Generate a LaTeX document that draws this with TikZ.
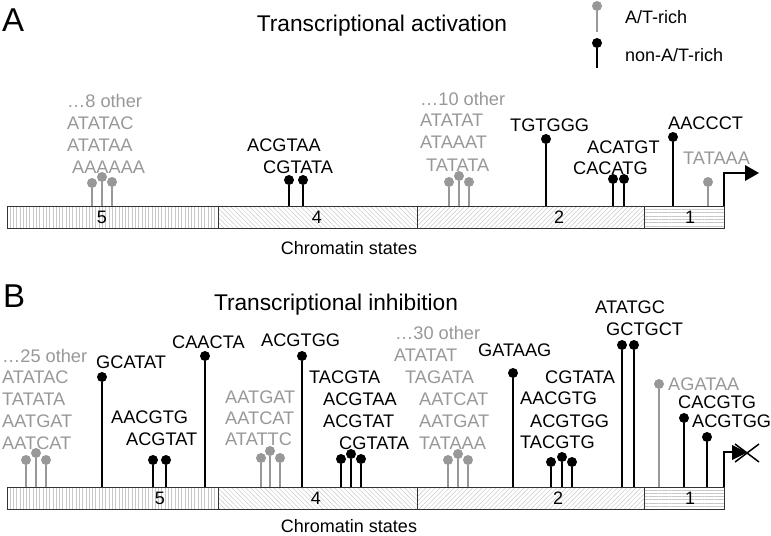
\documentclass[tikz,border=0pt]{standalone}
\usepackage{fontspec}
\setmainfont{Liberation Sans}
\usetikzlibrary{patterns.meta}
\definecolor{atgray}{RGB}{152,152,152}
\definecolor{hatch}{RGB}{200,200,200}
\tikzset{
  seq/.style={font=\fontsize{18.2bp}{22bp}\selectfont, anchor=west, inner sep=0pt},
  seqb/.style={seq, text=black},
  seqg/.style={seq, text=atgray},
  dotb/.style={circle, fill=black, inner sep=0pt, minimum size=10bp},
  dotg/.style={circle, fill=atgray, inner sep=0pt, minimum size=10bp},
  stemb/.style={line width=1.5bp, draw=black},
  stemg/.style={line width=1.5bp, draw=atgray},
  seg/.style={draw=black!80, line width=1.3bp, anchor=north west, inner sep=0pt, minimum height=22bp, pattern color=hatch},
  pat5/.style={pattern={Lines[angle=90, distance=3.3bp, line width=0.5bp]}},
  pat4/.style={pattern={Lines[angle=-45, distance=3.3bp, line width=0.5bp]}},
  pat2/.style={pattern={Lines[angle=45, distance=3.3bp, line width=0.5bp]}},
  pat1/.style={pattern={Lines[angle=0, distance=3.3bp, line width=0.5bp]}},
  seglabel/.style={font=\fontsize{18bp}{22bp}\selectfont, inner sep=0pt},
  title/.style={font=\fontsize{22.7bp}{27bp}\selectfont, anchor=base, inner sep=0pt},
  panel/.style={font=\fontsize{33bp}{36bp}\selectfont, anchor=base west, inner sep=0pt},
  caption/.style={font=\fontsize{18bp}{22bp}\selectfont, anchor=base, inner sep=0pt},
  legtext/.style={font=\fontsize{18bp}{22bp}\selectfont, anchor=west, inner sep=0pt},
}
% #1 name, #2 x, #3 bar-top y, #4 circle y, #5 b/g
\newcommand\lolpop[5]{%
  \coordinate (#1base) at (#2,#3);
  \node[dot#5] (#1) at (#2,#4) {};
  \draw[stem#5] (#1base) -- (#1);
}
\begin{document}
\begin{tikzpicture}[x=1bp,y=-1bp]
\useasboundingbox (0,0) rectangle (771,536);

% ---------------- Legend ----------------
\lolpop{legg}{597}{32}{6}{g}
\lolpop{legb}{597}{68}{43}{b}
\node[legtext] (legAT) at (625,17) {A/T-rich};
\node[legtext] (legnon) at (625,55) {non-A/T-rich};

% ---------------- Panel A ----------------
\node[panel] (labA) at (2,32) {A};
\node[title] (titA) at (382,32) {Transcriptional activation};

\node[seg, pat5, minimum width=211bp] (a5) at (7,206) {};
\node[seg, pat4, minimum width=199bp] (a4) at (218,206) {};
\node[seg, pat2, minimum width=227bp] (a2) at (417,206) {};
\node[seg, pat1, minimum width=80bp] (a1) at (644,206) {};
\node[seglabel] (a5l) at (102,217) {5};
\node[seglabel] (a4l) at (317,217) {4};
\node[seglabel] (a2l) at (559,217) {2};
\node[seglabel] (a1l) at (690,217) {1};
\node[caption] (capA) at (349,255) {Chromatin states};

% group in state 5 (A/T-rich)
\node[seqg] (ta1) at (67,101) {…8 other};
\node[seqg] (ta2) at (67,123) {ATATAC};
\node[seqg] (ta3) at (67,145) {ATATAA};
\node[seqg] (ta4) at (72,167) {AAAAAA};
\lolpop{pa1}{92}{206}{183}{g}
\lolpop{pa2}{102}{206}{177}{g}
\lolpop{pa3}{112}{206}{182}{g}

% state 4
\node[seqb] (ta5) at (247,145) {ACGTAA};
\node[seqb] (ta6) at (263,167) {CGTATA};
\lolpop{pa4}{289}{206}{180}{b}
\lolpop{pa5}{303}{206}{180}{b}

% state 2 A/T-rich
\node[seqg] (ta7) at (420,99) {…10 other};
\node[seqg] (ta8) at (420,120) {ATATAT};
\node[seqg] (ta9) at (420,142) {ATAAAT};
\node[seqg] (ta10) at (426,165) {TATATA};
\lolpop{pa6}{449}{206}{182}{g}
\lolpop{pa7}{459}{206}{176}{g}
\lolpop{pa8}{469}{206}{182}{g}

\node[seqb] (ta11) at (510,125) {TGTGGG};
\lolpop{pa9}{546}{206}{139}{b}

\node[seqb] (ta12) at (587,147) {ACATGT};
\node[seqb] (ta13) at (573,168) {CACATG};
\lolpop{pa10}{613}{206}{179}{b}
\lolpop{pa11}{624}{206}{179}{b}

\node[seqb] (ta14) at (668,123) {AACCCT};
\lolpop{pa12}{673}{206}{137}{b}
\node[seqg] (ta15) at (683,158) {TATAAA};
\lolpop{pa13}{708}{206}{182}{g}

% TSS arrow (active)
\coordinate (tssA) at (724,206);
\coordinate (tssAtop) at (724,173);
\coordinate (tssAend) at (746,173);
\draw[line width=1.5bp] (tssA) -- (tssAtop) -- (tssAend);
\fill (745,165) -- (759,173) -- (745,181) -- cycle;

% ---------------- Panel B ----------------
\node[panel] (labB) at (3,308) {B};
\node[title] (titB) at (336,310) {Transcriptional inhibition};

\node[seg, pat5, minimum width=211bp] (b5) at (7,487) {};
\node[seg, pat4, minimum width=199bp] (b4) at (218,487) {};
\node[seg, pat2, minimum width=227bp] (b2) at (417,487) {};
\node[seg, pat1, minimum width=80bp] (b1) at (644,487) {};
\node[seglabel] (b5l) at (160,498) {5};
\node[seglabel] (b4l) at (316,498) {4};
\node[seglabel] (b2l) at (558,498) {2};
\node[seglabel] (b1l) at (690,498) {1};
\node[caption] (capB) at (349,532) {Chromatin states};

% state 5
\node[seqg] (tb1) at (2,356) {…25 other};
\node[seqg] (tb2) at (2,377) {ATATAC};
\node[seqg] (tb3) at (2,399) {TATATA};
\node[seqg] (tb4) at (2,421) {AATGAT};
\node[seqg] (tb5) at (2,443) {AATCAT};
\lolpop{pb1}{26}{487}{460}{g}
\lolpop{pb2}{36}{487}{453}{g}
\lolpop{pb3}{46}{487}{460}{g}

\node[seqb] (tb6) at (96,362) {GCATAT};
\lolpop{pb4}{102}{487}{377}{b}
\node[seqb] (tb7) at (172,342) {CAACTA};
\lolpop{pb5}{205}{487}{356}{b}
\node[seqb] (tb8) at (111,417) {AACGTG};
\node[seqb] (tb9) at (126,439) {ACGTAT};
\lolpop{pb6}{153}{487}{460}{b}
\lolpop{pb7}{166}{487}{460}{b}

% state 4
\node[seqg] (tb10) at (225,397) {AATGAT};
\node[seqg] (tb11) at (225,418) {AATCAT};
\node[seqg] (tb12) at (225,439) {ATATTC};
\lolpop{pb8}{261}{487}{458}{g}
\lolpop{pb9}{270}{487}{451}{g}
\lolpop{pb10}{280}{487}{458}{g}

\node[seqb] (tb13) at (261,340) {ACGTGG};
\lolpop{pb11}{302}{487}{356}{b}

\node[seqb] (tb14) at (309,377) {TACGTA};
\node[seqb] (tb15) at (323,399) {ACGTAA};
\node[seqb] (tb16) at (323,421) {ACGTAT};
\node[seqb] (tb17) at (339,443) {CGTATA};
\lolpop{pb12}{341}{487}{459}{b}
\lolpop{pb13}{351}{487}{454}{b}
\lolpop{pb14}{361}{487}{459}{b}

% state 2
\node[seqg] (tb18) at (395,333) {…30 other};
\node[seqg] (tb19) at (394,355) {ATATAT};
\node[seqg] (tb20) at (405,377) {TAGATA};
\node[seqg] (tb21) at (419,399) {AATCAT};
\node[seqg] (tb22) at (419,421) {AATGAT};
\node[seqg] (tb23) at (419,443) {TATAAA};
\lolpop{pb15}{448}{487}{460}{g}
\lolpop{pb16}{458}{487}{454}{g}
\lolpop{pb17}{468}{487}{460}{g}

\node[seqb] (tb24) at (478,350) {GATAAG};
\lolpop{pb18}{513}{487}{373}{b}

\node[seqb] (tb25) at (545,377) {CGTATA};
\node[seqb] (tb26) at (520,398) {AACGTG};
\node[seqb] (tb27) at (530,421) {ACGTGG};
\node[seqb] (tb28) at (520,442) {TACGTG};
\lolpop{pb19}{551}{487}{462}{b}
\lolpop{pb20}{562}{487}{457}{b}
\lolpop{pb21}{572}{487}{462}{b}

\node[seqb] (tb29) at (595,307) {ATATGC};
\node[seqb] (tb30) at (606,329) {GCTGCT};
\lolpop{pb22}{622}{487}{345}{b}
\lolpop{pb23}{634}{487}{345}{b}

% state 1
\node[seqg] (tb31) at (668,384) {AGATAA};
\lolpop{pb24}{659}{487}{384}{g}
\node[seqb] (tb32) at (678,402) {CACGTG};
\lolpop{pb25}{684}{487}{418}{b}
\node[seqb] (tb33) at (692,421) {ACGTGG};
\lolpop{pb26}{707}{487}{437}{b}

% TSS arrow (blocked)
\coordinate (tssB) at (724,487);
\coordinate (tssBtop) at (724,452);
\coordinate (tssBend) at (733,452);
\draw[line width=1.5bp] (tssB) -- (tssBtop) -- (tssBend);
\fill (732,445) -- (747,452.5) -- (732,460) -- cycle;
\coordinate (xa) at (735,444);
\coordinate (xb) at (759,462);
\coordinate (xc) at (735,462);
\coordinate (xd) at (759,444);
\draw[line width=1.5bp] (xa) -- (xb) (xc) -- (xd);
\end{tikzpicture}
\end{document}
